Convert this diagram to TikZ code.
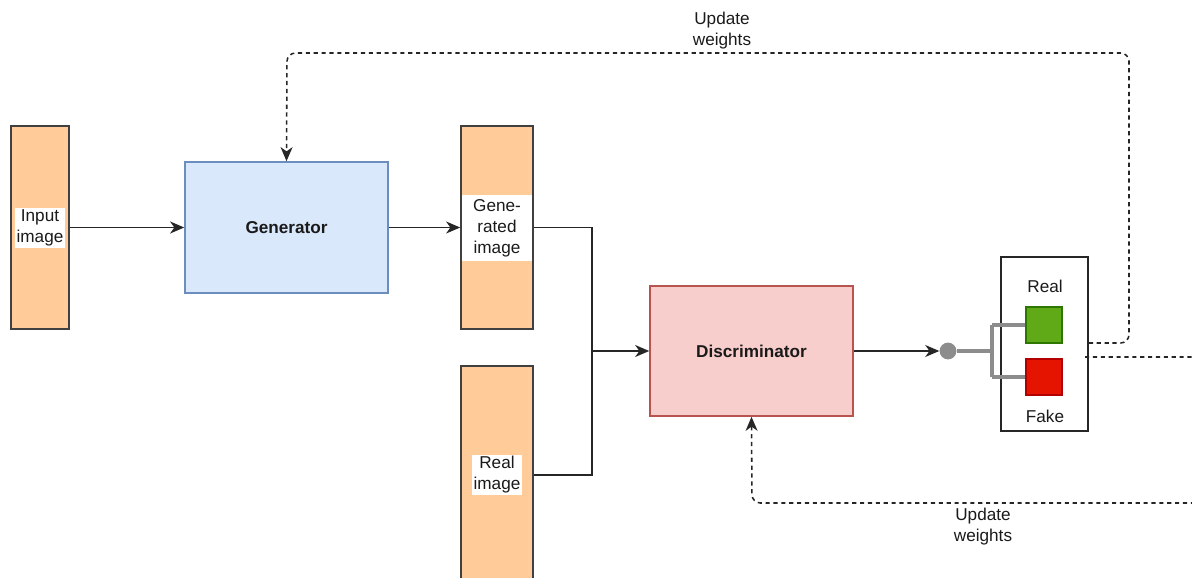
\documentclass[tikz,border=0pt]{standalone}
\usepackage{fontspec}
\setmainfont{Liberation Sans}
\usetikzlibrary{arrows.meta,calc}

\definecolor{peach}{HTML}{FFCC99}
\definecolor{blueFill}{HTML}{DAE8FC}
\definecolor{blueLine}{HTML}{6C8EBF}
\definecolor{redFill}{HTML}{F8CECC}
\definecolor{redLine}{HTML}{B85450}
\definecolor{okFill}{HTML}{60A917}
\definecolor{okLine}{HTML}{2D7600}
\definecolor{badFill}{HTML}{E51400}
\definecolor{badLine}{HTML}{B20000}
\definecolor{ink}{HTML}{1A1A1A}

\tikzset{
  every node/.style={font=\fontsize{12.2}{15}\selectfont, text=ink},
  imgbar/.style={draw=black!75, fill=peach, line width=1.1pt, minimum width=1.8cm, inner sep=0pt},
  netbox/.style={line width=1.1pt, minimum width=5.075cm, inner sep=0pt, font=\fontsize{12.2}{15}\selectfont\bfseries},
  whitelabel/.style={fill=white, inner sep=1pt, align=center},
  tip/.style={-{Stealth[length=10pt,width=8.5pt,inset=3pt]}},
  flow/.style={draw=black!85, line width=1.1pt, tip},
  plainflow/.style={draw=black!85, line width=1.1pt},
  feedback/.style={draw=black!85, line width=1.1pt, dash pattern=on 3pt off 2.6pt, rounded corners=6pt},
  fbarrow/.style={feedback, tip},
  branch/.style={draw=black!45, line width=2.2pt},
  classbox/.style={minimum size=0.9cm, inner sep=0pt, line width=1.2pt},
}

\begin{document}
\begin{tikzpicture}[x=0.025cm, y=-0.025cm]
  \useasboundingbox (0,0) rectangle (1192,578);
  \clip (0,0) rectangle (1192,578);

  % image columns
  \node[imgbar, minimum width=1.45cm, minimum height=5.075cm] (inp) at (40,227.5) {};
  \node[whitelabel] (inpL) at (40,228) {Input\\image};

  \node[imgbar, minimum height=5.075cm] (gen) at (497,227.5) {};
  \node[whitelabel, minimum width=1.75cm, inner ysep=3pt] (genL) at (497,228) {Gene-\\rated\\image};

  \node[imgbar, minimum height=5.45cm] (real) at (497,475) {};
  \node[whitelabel] (realL) at (497,475) {Real\\image};

  % networks
  \node[netbox, draw=blueLine, fill=blueFill, minimum height=3.275cm] (G) at (286.5,227.5) {Generator};
  \node[netbox, draw=redLine, fill=redFill, minimum height=3.25cm] (D) at (751.5,351) {Discriminator};

  % classifier output
  \node[draw=black!85, line width=1.1pt, minimum width=2.175cm, minimum height=4.35cm, inner sep=0pt] (out) at (1044.5,344) {};
  \node (realT) at (1045,286) {Real};
  \node (fakeT) at (1045,416) {Fake};
  \node[circle, fill=black!45, minimum size=0.42cm, inner sep=0pt] (dot) at (948,351) {};
  \coordinate (split) at (992,351);
  \node[classbox, draw=okLine, fill=okFill] (yes) at (1044,325) {};
  \node[classbox, draw=badLine, fill=badFill] (no) at (1044,377) {};

  % forward flow
  \draw[flow] (inp.east) -- (G.west);
  \draw[flow] (G.east) -- (gen.west);
  \coordinate (merge) at (592,351);
  \draw[plainflow] (gen.east) -| (merge);
  \draw[plainflow] (real.east) -| (merge);
  \draw[flow] (merge) -- (D.west);
  \draw[flow] (D.east) -- (dot.west);

  % branches to the two classes
  \draw[branch] (dot.east) -- (split);
  \draw[branch] (split |- yes.west) -- (split |- no.west);
  \draw[branch] (split |- yes.west) -- (yes.west);
  \draw[branch] (split |- no.west) -- (no.west);

  % feedback to the generator
  \coordinate (fbG) at ($(out.east)+(0,-1)$);
  \draw[fbarrow] (fbG) -- (1129,343) -- (1129,53) -- (287,53) -- (G.north);
  \node[align=center] (updG) at (722,31) {Update\\weights};

  % feedback to the discriminator
  \coordinate (fbD) at (1085,357);
  \draw[fbarrow] (fbD) -- (1240,357) -- (1240,503) -- (752,503) -- (D.south);
  \node[align=center] (updD) at (983,527) {Update\\weights};
\end{tikzpicture}
\end{document}
